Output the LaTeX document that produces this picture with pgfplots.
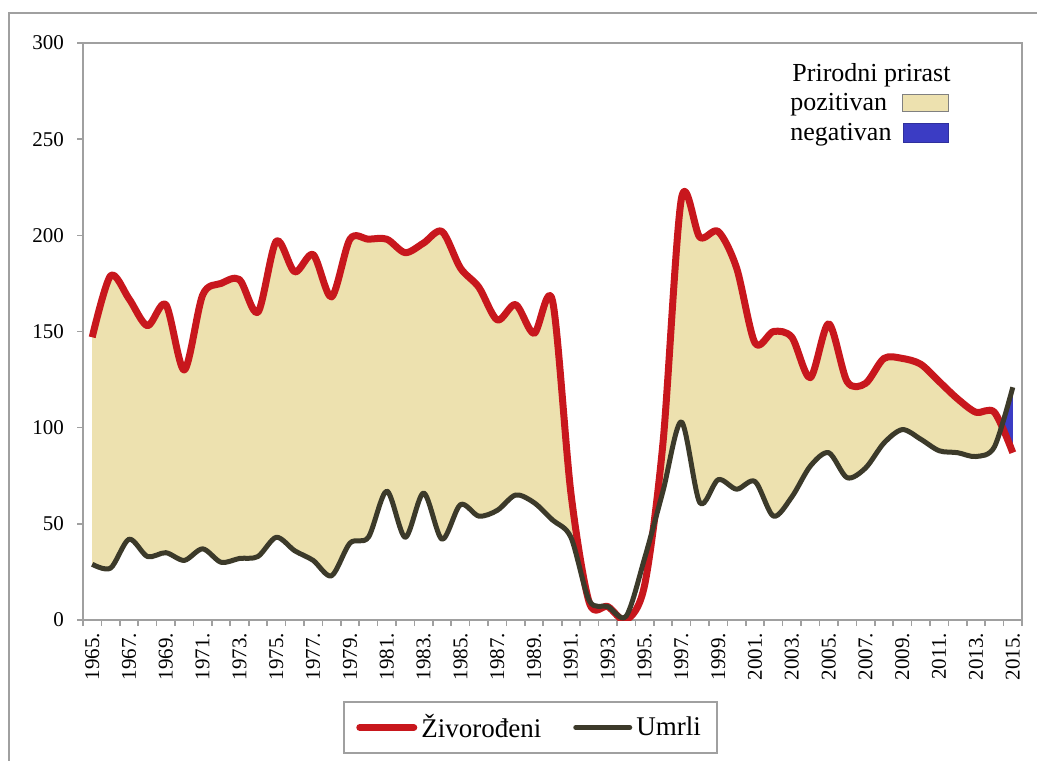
\documentclass[border=0pt]{standalone}
\usepackage{fontspec}
\setmainfont{Liberation Serif}
\usepackage{pgfplots}
\usepackage{pgfplotstable}
\pgfplotsset{compat=1.18}
\usepgfplotslibrary{fillbetween}
\definecolor{zred}{HTML}{C8171D}
\definecolor{zblack}{HTML}{3C3A2A}
\definecolor{ztan}{HTML}{EDE1AF}
\definecolor{zblue}{HTML}{3B3CC4}
\definecolor{zgray}{HTML}{A0A0A0}

\pgfplotstableread{
year red black
1965 147 29
1966 179 27
1967 167 42
1968 153 33
1969 164 35
1970 130 31
1971 169 37
1972 175 30
1973 177 32
1974 160 33
1975 197 43
1976 181 36
1977 190 31
1978 168 23
1979 198 40
1980 198 43
1981 198 67
1982 191 43
1983 196 66
1984 202 42
1985 183 60
1986 173 54
1987 156 57
1988 164 65
1989 149 61
1990 166 52
1991 66 43
1992 9 10
1993 7 7
1994 0 2
1995 18 32
1996 92 67
1997 219 103
1998 199 61
1999 202 73
2000 183 68
2001 144 72
2002 150 54
2003 147 64
2004 126 80
2005 154 87
2006 124 74
2007 123 79
2008 136 92
2009 136 99
2010 133 94
2011 124 88
2012 115 87
2013 108 85
2014 108 90
2015 87 121
}\datatable

\begin{document}
\begin{tikzpicture}
\begin{axis}[
  at={(0pt,0pt)}, anchor=south west,
  scale only axis, width=469.5pt, height=288.5pt,
  set layers,
  xmin=1964.5, xmax=2015.5, ymin=0, ymax=300,
  axis line style={draw=zgray, line width=1pt},
  xtick={1965,1967,...,2015},
  xticklabels={1965.,1967.,1969.,1971.,1973.,1975.,1977.,1979.,1981.,1983.,1985.,1987.,1989.,1991.,1993.,1995.,1997.,1999.,2001.,2003.,2005.,2007.,2009.,2011.,2013.,2015.},
  minor xtick={1964.5,1965.5,...,2015.5},
  ytick={0,50,...,300},
  tick align=outside, xtick pos=bottom, ytick pos=left,
  major x tick style={draw=none},
  minor x tick style={draw=zgray, line width=0.8pt},
  major y tick style={draw=zgray, line width=0.8pt},
  minor tick length=3pt, major tick length=3pt,
  xticklabel style={rotate=90, anchor=east, font=\fontsize{10.5}{12}\selectfont},
  yticklabel style={font=\fontsize{10.5}{12}\selectfont, xshift=-3pt},
  /pgf/number format/assume math mode=true,
  legend style={at={(0.4766,-0.1863)}, anchor=center, draw=zgray, line width=1pt,
    font=\fontsize{13.5}{15}\selectfont, legend columns=2,
    /tikz/every even column/.append style={column sep=14pt},
    inner xsep=6pt, inner ysep=4pt},
  legend cell align=left,
  legend image code/.code={\draw[#1, line cap=round] (0pt,0pt) -- (27pt,0pt);},
]
\addplot[name path=red, zred, line width=3.5pt, smooth, line join=round] table[x=year,y=red]{\datatable};
\addlegendentry{Živorođeni}
\addplot[name path=black, zblack, line width=2.5pt, smooth, line join=round] table[x=year,y=black]{\datatable};
\addlegendentry{Umrli}
\addplot[ztan, forget plot] fill between[of=red and black, soft clip={domain=1964:1994.3}];
\addplot[ztan, forget plot] fill between[of=red and black, soft clip={domain=1995.8:2014.45}];
\addplot[zblue, forget plot] fill between[of=red and black, soft clip={domain=2014.45:2016}];
\end{axis}
% top-right legend
\node[anchor=west, font=\fontsize{13}{15}\selectfont, inner sep=0pt] at (354.5pt,272.5pt) {Prirodni prirast};
\node[anchor=west, font=\fontsize{13}{15}\selectfont, inner sep=0pt] at (353.5pt,257.5pt) {pozitivan};
\node[anchor=west, font=\fontsize{13}{15}\selectfont, inner sep=0pt] at (353.5pt,242.5pt) {negativan};
\filldraw[fill=ztan, draw=zgray!80!black, line width=0.5pt] (409.5pt,254pt) rectangle (432.5pt,262.5pt);
\filldraw[fill=zblue, draw=zblue!80!black, line width=0.5pt] (410pt,238.5pt) rectangle (432.5pt,248pt);
% outer frame
\draw[zgray, line width=1pt] (-37pt,-72pt) -- (-37pt,303.5pt) -- (479pt,303.5pt);
\pgfresetboundingbox
\path[use as bounding box] (-41.5pt,-70pt) rectangle (477pt,310pt);
\end{tikzpicture}
\end{document}
